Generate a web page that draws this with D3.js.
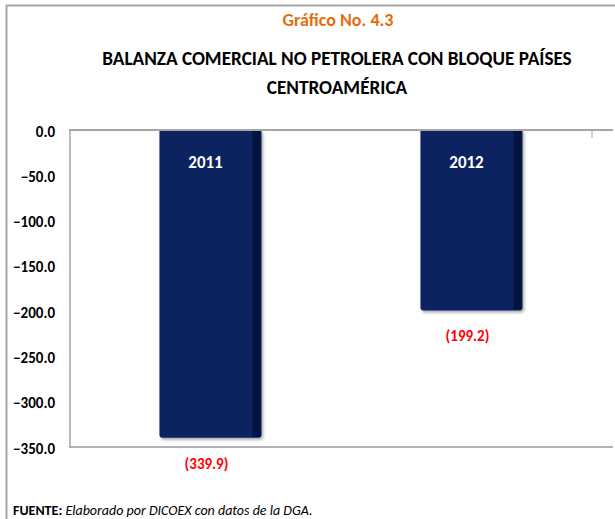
<!DOCTYPE html>
<html>
<head>
<meta charset="utf-8">
<script src="https://cdn.jsdelivr.net/npm/d3@7"></script>
<style>
html,body{margin:0;padding:0;background:#fff;}
svg{display:block;}
text{font-family:"Liberation Sans Narrow","Carlito","Open Sans",sans-serif;font-weight:bold;}
</style>
</head>
<body>
<svg id="chart" width="615" height="519"></svg>
<script>
const categories = ["2011", "2012"];
const values = [-339.9, -199.2];
const valueLabels = ["(339.9)", "(199.2)"];
const yTicks = [0, -50, -100, -150, -200, -250, -300, -350];

const svg = d3.select("#chart");

// outer frame
svg.append("path").attr("d", "M6.5,519 V5.5 H615").attr("fill","none").attr("stroke","#a6a6a6").attr("stroke-width",2);

// titles
svg.append("text").attr("x",338).attr("y",26).attr("text-anchor","middle")
  .attr("fill","#E46C0A").style("font-size","18px").text("Gráfico No. 4.3");
svg.append("text").attr("x",337).attr("y",65).attr("text-anchor","middle")
  .attr("fill","#000").style("font-size","19.2px").text("BALANZA COMERCIAL NO PETROLERA CON BLOQUE PAÍSES");
svg.append("text").attr("x",337).attr("y",94).attr("text-anchor","middle")
  .attr("fill","#000").style("font-size","19.2px").text("CENTROAMÉRICA");

const y = d3.scaleLinear().domain([-350, 0]).range([447, 130]);
const x = d3.scaleBand().domain(categories).range([80, 602]).paddingInner(0.609).paddingOuter(0.3045);

// y axis labels
const yAxis = d3.axisLeft(y).tickValues(yTicks).tickFormat(d3.format(".1f")).tickSize(0).tickPadding(15);
const gy = svg.append("g").attr("transform","translate(70,0)").call(yAxis);
gy.select(".domain").remove();
gy.selectAll("text").style("font-size","15px").attr("fill","#000").attr("dy","0.4em");

// plot frame lines
svg.append("line").attr("x1",70).attr("x2",70).attr("y1",y(0)).attr("y2",y(-350)).attr("stroke","#a6a6a6").attr("stroke-width",1.5);
svg.append("line").attr("x1",69).attr("x2",613).attr("y1",y(-350)).attr("y2",y(-350)).attr("stroke","#999").attr("stroke-width",1.5);

// shadow filter
const defs = svg.append("defs");
const f = defs.append("filter").attr("id","sh").attr("x","-10%").attr("y","-10%").attr("width","130%").attr("height","130%");
f.append("feDropShadow").attr("dx",1.5).attr("dy",2).attr("stdDeviation",1.5).attr("flood-color","#000").attr("flood-opacity",0.35);

const bars = svg.append("g").selectAll("g").data(categories).join("g");
bars.append("path")
  .attr("filter","url(#sh)")
  .attr("fill","#0A2460")
  .attr("d",(d,i)=>{
    const x0 = x(d), x1 = x(d)+x.bandwidth(), y0 = y(0), y1 = y(values[i]), r = 3;
    return `M${x0},${y0} H${x1} V${y1-r} Q${x1},${y1} ${x1-r},${y1} H${x0+r} Q${x0},${y1} ${x0},${y1-r} Z`;
  });
bars.append("rect")
  .attr("x",d=>x(d)+x.bandwidth()-9).attr("y",y(0))
  .attr("width",8).attr("height",(d,i)=>y(values[i])-y(0)-1)
  .attr("fill","#04143F");

// zero line on top
svg.append("line").attr("x1",69).attr("x2",613).attr("y1",y(0)).attr("y2",y(0)).attr("stroke","#a6a6a6").attr("stroke-width",2);
svg.append("line").attr("x1",592).attr("x2",592).attr("y1",y(0)).attr("y2",y(0)+8).attr("stroke","#a6a6a6").attr("stroke-width",1);

// category labels inside bars
bars.append("text").attr("x",d=>x(d)+x.bandwidth()/2-5).attr("y",y(0)+38)
  .attr("text-anchor","middle").attr("fill","#fff").style("font-size","17px").text(d=>d);

// value labels
bars.append("text").attr("x",d=>x(d)+x.bandwidth()/2-4).attr("y",(d,i)=>y(values[i])+31)
  .attr("text-anchor","middle").attr("fill","#FF0000").style("font-size","15px").text((d,i)=>valueLabels[i]);

// footer
const ft = svg.append("text").attr("x",13).attr("y",515).style("font-size","14px").attr("fill","#000");
ft.append("tspan").text("FUENTE: ");
ft.append("tspan").style("font-weight","normal").style("font-style","italic").text("Elaborado por DICOEX con datos de la DGA.");
</script>
</body>
</html>
